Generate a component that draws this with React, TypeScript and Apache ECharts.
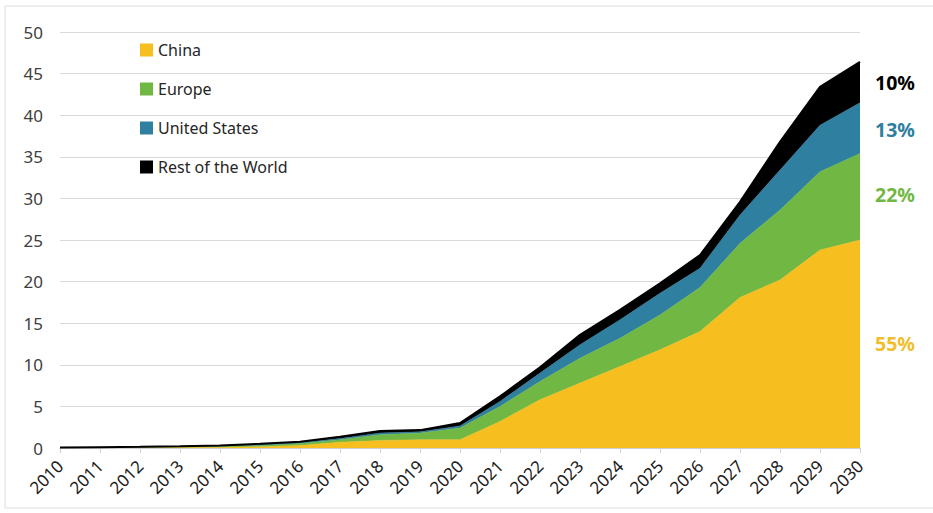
import React, { useEffect, useRef } from "react";
import * as echarts from "echarts";

const years = ["2010","2011","2012","2013","2014","2015","2016","2017","2018","2019","2020","2021","2022","2023","2024","2025","2026","2027","2028","2029","2030"];
const china = [0.02,0.03,0.05,0.08,0.1,0.15,0.3,0.7,0.9,1.0,1.0,3.2,5.8,7.8,9.8,11.8,14.0,18.1,20.2,23.8,25.0];
const europe = [0.02,0.03,0.04,0.06,0.1,0.15,0.25,0.3,0.7,0.8,1.4,1.8,2.2,3.0,3.4,4.2,5.3,6.5,8.4,9.4,10.4];
const unitedStates = [0.01,0.02,0.03,0.04,0.05,0.1,0.1,0.15,0.2,0.15,0.25,0.6,1.0,1.6,2.2,2.6,2.3,3.4,4.8,5.6,6.1];
const restOfWorld = [0.01,0.02,0.03,0.04,0.05,0.1,0.1,0.2,0.25,0.2,0.35,0.6,0.7,1.2,1.2,1.2,1.6,1.6,3.4,4.6,4.9];
const shareLabels = ["10%", "13%", "22%", "55%"];

const COLORS = {
  china: "#F6BE1F",
  europe: "#70B843",
  us: "#2E7FA0",
  row: "#000000",
};

export default function App() {
  const ref = useRef<HTMLDivElement>(null);
  useEffect(() => {
    if (!ref.current) return;
    const chart = echarts.init(ref.current, null, { renderer: "svg" });
    const font = "'Noto Sans', 'Open Sans', sans-serif";
    const mk = (name: string, data: number[], color: string) => ({
      name,
      type: "line",
      stack: "total",
      data,
      showSymbol: false,
      symbol: "none",
      lineStyle: { width: name === "Rest of the World" ? 2 : 0.5, color },
      itemStyle: { color },
      areaStyle: { color, opacity: 1 },
    });
    chart.setOption({
      animation: false,
      backgroundColor: "#ffffff",
      textStyle: { fontFamily: font },
      grid: { left: 60, right: 73, top: 32, bottom: 65, containLabel: false },
      legend: {
        orient: "vertical",
        left: 135,
        top: 37,
        itemGap: 23,
        itemWidth: 13,
        itemHeight: 13,
        icon: "rect",
        textStyle: { fontSize: 16, color: "#262626", fontFamily: font },
        data: ["China", "Europe", "United States", "Rest of the World"],
      },
      xAxis: {
        type: "category",
        data: years,
        boundaryGap: false,
        axisLine: { lineStyle: { color: "#d0d0d0", width: 1 } },
        axisTick: { show: true, alignWithLabel: true, length: 5, lineStyle: { color: "#d0d0d0" } },
        axisLabel: { rotate: 45, fontSize: 17, color: "#1a1a1a", margin: 15, interval: 0, fontFamily: font },
        splitLine: { show: false },
      },
      yAxis: {
        type: "value",
        min: 0,
        max: 50,
        interval: 5,
        axisLine: { show: false },
        axisTick: { show: false },
        axisLabel: { fontSize: 17, color: "#404040", margin: 17, fontFamily: font },
        splitLine: { lineStyle: { color: "#d9d9d9", width: 1 } },
      },
      series: [
        mk("China", china, COLORS.china),
        mk("Europe", europe, COLORS.europe),
        mk("United States", unitedStates, COLORS.us),
        mk("Rest of the World", restOfWorld, COLORS.row),
      ],
      graphic: [
        { type: "line", shape: { x1: 5, y1: 6, x2: 933, y2: 6 }, style: { stroke: "#e8e8e8", lineWidth: 1.5 } },
        { type: "line", shape: { x1: 5, y1: 6, x2: 5, y2: 508 }, style: { stroke: "#e8e8e8", lineWidth: 1.5 } },
        { type: "line", shape: { x1: 5, y1: 508, x2: 933, y2: 508 }, style: { stroke: "#e8e8e8", lineWidth: 1.5 } },
        { type: "text", left: 875, top: 72, style: { text: shareLabels[0], fill: "#000000", font: `bold 19.5px ${font}` } },
        { type: "text", left: 875, top: 119, style: { text: shareLabels[1], fill: "#2E7FA0", font: `bold 19.5px ${font}` } },
        { type: "text", left: 875, top: 184, style: { text: shareLabels[2], fill: "#70B843", font: `bold 19.5px ${font}` } },
        { type: "text", left: 875, top: 333, style: { text: shareLabels[3], fill: "#F0BE2E", font: `bold 19.5px ${font}` } },
      ],
    });
    return () => chart.dispose();
  }, []);
  return (
    <div
      ref={ref}
      style={{ position: "absolute", left: 0, top: 0, width: 933, height: 513 }}
    />
  );
}
